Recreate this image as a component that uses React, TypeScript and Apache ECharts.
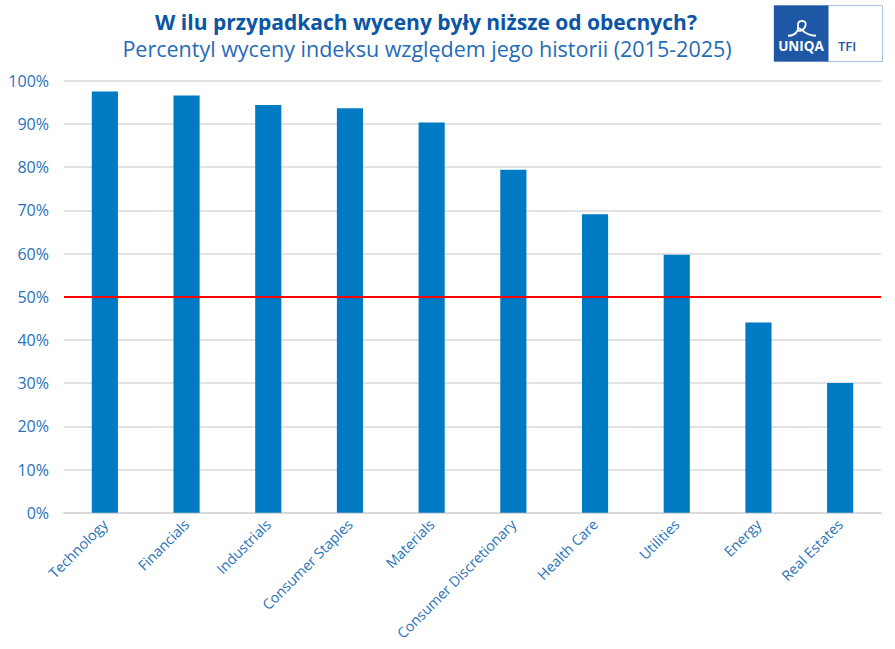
import { useEffect, useRef } from "react";
import * as echarts from "echarts";

const sectors = [
  "Technology",
  "Financials",
  "Industrials",
  "Consumer Staples",
  "Materials",
  "Consumer Discretionary",
  "Health Care",
  "Utilities",
  "Energy",
  "Real Estates",
];
const percentile = [97.5, 96.6, 94.4, 93.6, 90.3, 79.4, 69.1, 59.7, 44.0, 30.0];
const threshold = 50;

const titleMain = "W ilu przypadkach wyceny były niższe od obecnych?";
const titleSub = "Percentyl wyceny indeksu względem jego historii (2015-2025)";

const FONT = "'Open Sans', 'DejaVu Sans', sans-serif";
const BLUE_TEXT = "#2a72b8";

// uproszczony znak UNIQA
const markPath =
  "M1 15 C7 15 9 13 10.5 10 C12 6 9 1 15 1 C21 1 19 8 14 10 C11 11 10 9 12 8 C14 7 17 15 29 15";
echarts.graphic.registerShape(
  "uniqaMark",
  echarts.graphic.extendPath(markPath, {}) as any
);

export default function App() {
  const ref = useRef<HTMLDivElement>(null);

  useEffect(() => {
    if (!ref.current) return;
    const chart = echarts.init(ref.current, undefined, { renderer: "svg" });

    chart.setOption({
      animation: false,
      backgroundColor: "#ffffff",
      textStyle: { fontFamily: FONT },
      grid: { left: 64, right: 14, top: 80.7, bottom: 136.3, containLabel: false },
      xAxis: {
        type: "category",
        data: sectors,
        axisTick: { show: false },
        axisLine: { lineStyle: { color: "#d9d9d9", width: 2 } },
        axisLabel: {
          rotate: 45,
          interval: 0,
          color: BLUE_TEXT,
          fontSize: 14.3,
          fontFamily: FONT,
          margin: 9,
        },
      },
      yAxis: {
        type: "value",
        min: 0,
        max: 100,
        interval: 10,
        axisLine: { show: false },
        axisTick: { show: false },
        splitLine: { lineStyle: { color: "#d9d9d9", width: 1.5 } },
        axisLabel: {
          color: BLUE_TEXT,
          fontSize: 16,
          fontFamily: FONT,
          margin: 15,
          formatter: (v: number) => `${v}%`,
        },
      },
      series: [
        {
          type: "bar",
          data: percentile,
          barWidth: "32%",
          itemStyle: { color: "#007ac3" },
          markLine: {
            silent: true,
            symbol: "none",
            label: { show: false },
            lineStyle: { color: "#ff0000", width: 2, type: "solid" },
            data: [{ yAxis: threshold }],
          },
        },
      ],
      graphic: [
        {
          type: "text",
          x: 426,
          y: 22,
          style: {
            text: titleMain,
            fill: "#0b55a5",
            font: `bold 21px ${FONT}`,
            textAlign: "center",
            textVerticalAlign: "middle",
          },
        },
        {
          type: "text",
          x: 427,
          y: 48,
          style: {
            text: titleSub,
            fill: "#1f6cb7",
            font: `21.5px ${FONT}`,
            textAlign: "center",
            textVerticalAlign: "middle",
          },
        },
        {
          type: "rect",
          shape: { x: 774, y: 5.5, width: 108.5, height: 56 },
          style: { fill: "#ffffff", stroke: "#a9bfe0", lineWidth: 1 },
        },
        {
          type: "rect",
          shape: { x: 774, y: 5.5, width: 54.5, height: 56 },
          style: { fill: "#1e57a4" },
        },
        {
          type: "uniqaMark",
          x: 787,
          y: 20,
          scaleX: 1,
          scaleY: 1.05,
          style: { fill: "none", stroke: "#ffffff", lineWidth: 1.8 },
        },
        {
          type: "text",
          x: 801,
          y: 46,
          style: {
            text: "UNIQA",
            fill: "#ffffff",
            font: `bold 13.5px ${FONT}`,
            textAlign: "center",
            textVerticalAlign: "middle",
          },
        },
        {
          type: "text",
          x: 847,
          y: 46,
          style: {
            text: "TFI",
            fill: "#1e57a4",
            font: `600 13px ${FONT}`,
            textAlign: "center",
            textVerticalAlign: "middle",
          },
        },
      ],
    });

    return () => chart.dispose();
  }, []);

  return (
    <div
      ref={ref}
      style={{ position: "fixed", left: 0, top: 0, width: 895, height: 649 }}
    />
  );
}
